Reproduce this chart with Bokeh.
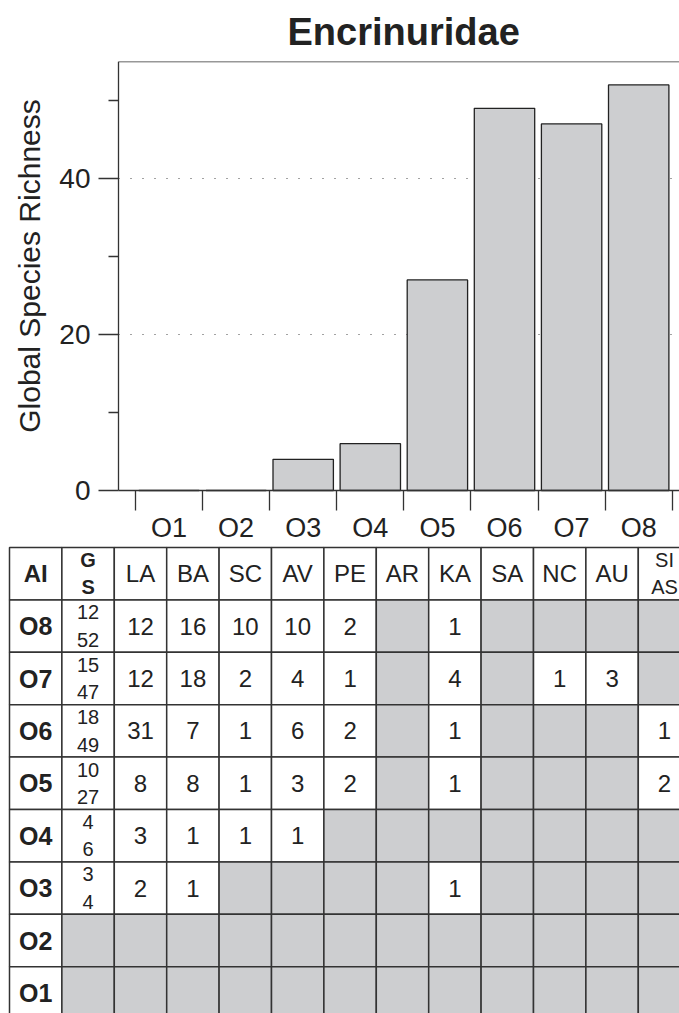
from bokeh.plotting import figure
from bokeh.models import Range1d, FixedTicker, LinearAxis, Title, Grid
from bokeh.core.properties import value
from bokeh.embed import file_html
from bokeh.resources import INLINE

# ---------------- data ----------------
periods = ["O1", "O2", "O3", "O4", "O5", "O6", "O7", "O8"]
richness = [0, 0, 4, 6, 27, 49, 47, 52]

row_labels = ["O8", "O7", "O6", "O5", "O4", "O3", "O2", "O1"]
genera = [12, 15, 18, 10, 4, 3, None, None]
species = [52, 47, 49, 27, 6, 4, None, None]
regions = ["LA", "BA", "SC", "AV", "PE", "AR", "KA", "SA", "NC", "AU", "SI\nAS"]
counts = [
    [12, 16, 10, 10, 2, None, 1, None, None, None, None],
    [12, 18, 2, 4, 1, None, 4, None, 1, 3, None],
    [31, 7, 1, 6, 2, None, 1, None, None, None, 1],
    [8, 8, 1, 3, 2, None, 1, None, None, None, 2],
    [3, 1, 1, 1, None, None, None, None, None, None, None],
    [2, 1, None, None, None, None, 1, None, None, None, None],
    [None] * 11,
    [None] * 11,
]

FONT = "Liberation Sans"
GRAY = "#cdced0"
INK = "#222222"
LINE = "#333333"

# ---------------- geometry (pixels) ----------------
W, H = 679, 1013          # figure size
TOP = 61                  # frame top inside figure
FRAME_H = H - TOP
SLOT = 67.1               # px per period
X1 = 168.5                # px of period 1 centre
AXIS_X = 118              # px of y axis line
PPU = 7.8                 # px per species
Y0 = 490 - TOP            # px (from frame top) of y = 0
YMAX = 55
CELL = 52.4               # table cell size
TAB_LEFT = 9              # px of table left edge
TAB_TOP = 547 - TOP       # px below frame top of table top edge

x_lo = 1 - X1 / SLOT
x_hi = 1 + (W - X1) / SLOT
y_lo = -(FRAME_H - Y0) / PPU
x_axis_left = 1 - (X1 - AXIS_X) / SLOT

p = figure(width=W, height=H, output_backend="svg", toolbar_location=None,
           x_range=Range1d(x_lo, x_hi), y_range=Range1d(y_lo, YMAX),
           x_axis_location=None, y_axis_location=None,
           min_border_left=0, min_border_right=0, min_border_bottom=0,
           min_border_top=TOP)
p.outline_line_color = None
for gr in p.grid:
    gr.visible = False
p.extra_x_ranges = {"tab": Range1d(-TAB_LEFT / CELL, (W - TAB_LEFT) / CELL)}
p.extra_y_ranges = {"tab": Range1d(-(FRAME_H - TAB_TOP) / CELL, TAB_TOP / CELL)}

# dotted grid at 20 and 40
g = Grid(dimension=1, ticker=FixedTicker(ticks=[20, 40]), grid_line_color="#444444",
         grid_line_dash="1 11", grid_line_width=1)
if "cross_bounds" in Grid.properties():
    g.cross_bounds = (x_axis_left, x_hi)
p.add_layout(g)

# bars
xs = list(range(1, len(periods) + 1))
p.vbar(x=xs, top=richness, width=0.9, fill_color=GRAY, line_color=INK,
       line_width=1.3)

# y axis
ya = LinearAxis(fixed_location=x_axis_left, bounds=(0, YMAX))
ya.ticker = FixedTicker(ticks=[0, 20, 40], minor_ticks=[10, 30, 50])
ya.major_tick_out = 20
ya.major_tick_in = 0
ya.minor_tick_out = 10
ya.minor_tick_in = 0
ya.major_tick_line_color = LINE
ya.minor_tick_line_color = LINE
ya.major_tick_line_width = 1.3
ya.minor_tick_line_width = 1.3
ya.axis_line_color = LINE
ya.axis_line_width = 1.3
ya.major_label_standoff = 8
ya.major_label_text_font = FONT
ya.major_label_text_font_size = "28px"
ya.major_label_text_color = INK
p.add_layout(ya, "left")

# y axis title (own axis so it can sit slightly above the frame centre)
yl = LinearAxis(fixed_location=x_axis_left, bounds=(2.6, YMAX),
                ticker=FixedTicker(ticks=[]), axis_line_color=None,
                major_tick_out=0, major_tick_in=0, minor_tick_out=0, minor_tick_in=0,
                axis_label="Global Species Richness", axis_label_text_font=FONT,
                axis_label_text_font_size="30px", axis_label_text_font_style="normal",
                axis_label_text_color=INK, axis_label_standoff=73)
p.add_layout(yl, "left")

# x axis
xa = LinearAxis(fixed_location=0, bounds=(x_axis_left, x_hi))
xa.ticker = FixedTicker(ticks=xs, minor_ticks=[x - 0.5 for x in xs] + [xs[-1] + 0.5])
xa.major_label_overrides = {x: lab for x, lab in zip(xs, periods)}
xa.major_tick_out = 0
xa.major_tick_in = 0
xa.minor_tick_out = 20
xa.minor_tick_in = 0
xa.minor_tick_line_color = LINE
xa.minor_tick_line_width = 1.3
xa.axis_line_color = LINE
xa.axis_line_width = 1.3
xa.major_label_standoff = 2
xa.major_label_text_font = FONT
xa.major_label_text_font_size = "27px"
xa.major_label_text_color = INK
p.add_layout(xa, "below")

# top border as an empty axis
top = LinearAxis(fixed_location=YMAX, bounds=(x_axis_left, x_hi),
                 ticker=FixedTicker(ticks=[]), major_tick_out=0, major_tick_in=0,
                 minor_tick_out=0, minor_tick_in=0, axis_line_color=LINE,
                 axis_line_width=1.3)
p.add_layout(top, "above")

p.add_layout(Title(text="Encrinuridae", align="left", offset=287, text_font=FONT,
                   text_font_size="38px", text_font_style="bold",
                   text_color=INK, standoff=17), "above")

# ---------------- table ----------------
TR = dict(x_range_name="tab", y_range_name="tab")
ncols = 2 + len(regions)
cx, cy, cf = [], [], []
for c in range(ncols):
    cx.append(c + 0.5); cy.append(-0.5); cf.append("white")
for r, lab in enumerate(row_labels):
    y = -(r + 1.5)
    cx.append(0.5); cy.append(y); cf.append("white")
    cx.append(1.5); cy.append(y); cf.append("white" if genera[r] is not None else GRAY)
    for j, v in enumerate(counts[r]):
        cx.append(j + 2.5); cy.append(y); cf.append("white" if v is not None else GRAY)
p.rect(x=cx, y=cy, width=1, height=1, fill_color=cf, line_color=LINE,
       line_width=1.5, **TR)

off = 0.26
hx, hy, ht = [], [], []
sx, sy, st = [], [], []
for j, reg in enumerate(regions):
    if "\n" in reg:
        a, b = reg.split("\n")
        sx += [j + 2.5, j + 2.5]; sy += [-0.5 + off, -0.5 - off]; st += [a, b]
    else:
        hx.append(j + 2.5); hy.append(-0.5); ht.append(reg)
p.text(x=hx, y=hy, text=ht, text_align="center", text_baseline="middle",
       text_font=value(FONT), text_font_size="24px", text_color=INK, **TR)
p.text(x=sx, y=sy, text=st, text_align="center", text_baseline="middle",
       text_font=value(FONT), text_font_size="20px", text_color=INK, **TR)
p.text(x=[0.5], y=[-0.5], text=["AI"], text_align="center", text_baseline="middle",
       text_font=value(FONT), text_font_size="24px", text_font_style="bold",
       text_color=INK, **TR)
p.text(x=[1.5, 1.5], y=[-0.5 + off, -0.5 - off], text=["G", "S"], text_align="center",
       text_baseline="middle", text_font=value(FONT), text_font_size="20px",
       text_font_style="bold", text_color=INK, **TR)

p.text(x=[0.5] * len(row_labels), y=[-(r + 1.5) for r in range(len(row_labels))],
       text=row_labels, text_align="center", text_baseline="middle",
       text_font=value(FONT), text_font_size="25px", text_font_style="bold",
       text_color=INK, **TR)

gx, gy, gt = [], [], []
for r in range(len(row_labels)):
    if genera[r] is not None:
        gx += [1.5, 1.5]
        gy += [-(r + 1.5) + off, -(r + 1.5) - off]
        gt += [str(genera[r]), str(species[r])]
p.text(x=gx, y=gy, text=gt, text_align="center", text_baseline="middle",
       text_font=value(FONT), text_font_size="20px", text_color=INK, **TR)

nx, ny, nt = [], [], []
for r in range(len(row_labels)):
    for j, v in enumerate(counts[r]):
        if v is not None:
            nx.append(j + 2.5); ny.append(-(r + 1.5)); nt.append(str(v))
p.text(x=nx, y=ny, text=nt, text_align="center", text_baseline="middle",
       text_font=value(FONT), text_font_size="24px", text_color=INK, **TR)

open("out.html", "w").write(file_html(p, INLINE))
